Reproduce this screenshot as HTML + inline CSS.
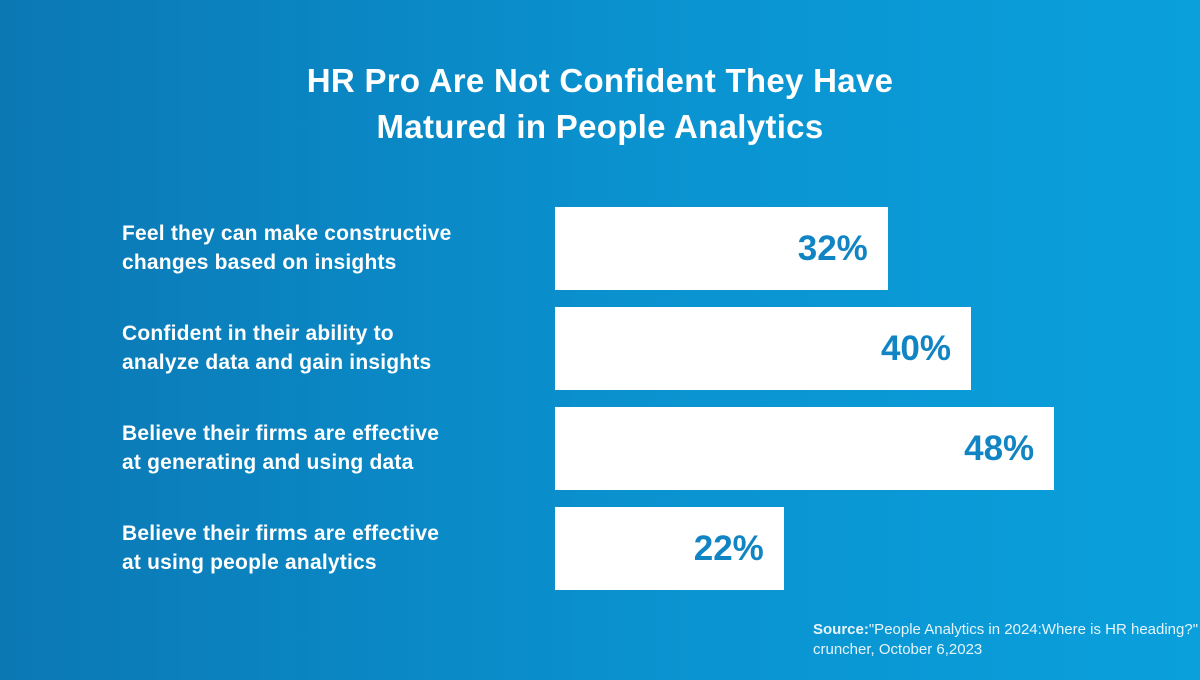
<!DOCTYPE html>
<html><head><meta charset="utf-8"><style>
html,body{margin:0;padding:0}
body{width:1200px;height:680px;overflow:hidden;background:linear-gradient(90deg,#0b78b4 0%,#0a93d0 55%,#0aa0dc 100%);font-family:"Liberation Sans",sans-serif;position:relative;color:#fff}
#title{position:absolute;left:0;width:1200px;top:58px;text-align:center;font-size:33px;font-weight:bold;line-height:46px;letter-spacing:0.3px}
.lbl{position:absolute;left:122px;font-size:21px;font-weight:bold;line-height:29px;letter-spacing:0.2px}
.bar{position:absolute;background:#fff;height:83px}
.val{position:absolute;right:20px;top:0;line-height:83px;font-size:35px;font-weight:bold;color:#1185c3}
#source{position:absolute;left:813px;top:620px;font-size:15px;line-height:20px;color:#e6f4fb}
</style></head><body>
<div id="title">HR Pro Are Not Confident They Have<br>Matured in People Analytics</div>
<div id="chart"></div>
<div id="source"><b>Source:</b>"People Analytics in 2024:Where is HR heading?" cruncher, October 6,2023</div>
<script>
const categories=["Feel they can make constructive|changes based on insights","Confident in their ability to|analyze data and gain insights","Believe their firms are effective|at generating and using data","Believe their firms are effective|at using people analytics"];
const values=[32,40,48,22];
const valueLabels=["32%","40%","48%","22%"];
const x0=555, pxPer=10.4, top0=207, step=100, bh=83;
const chart=document.getElementById('chart');
function xw(v){return v*pxPer;}
function yp(i){return top0+i*step;}
categories.forEach((c,i)=>{
  const l=document.createElement('div');
  l.className='lbl';
  
  
  l.style.top=(yp(i)+12)+'px';
  l.innerHTML=c.replace('|','<br>');
  chart.appendChild(l);
  const b=document.createElement('div');
  b.className='bar';
  
  
  b.style.left=x0+'px';
  b.style.top=yp(i)+'px';
  b.style.width=xw(values[i])+'px';
  const t=document.createElement('div');
  t.className='val';
  
  
  t.textContent=valueLabels[i];
  b.appendChild(t);
  chart.appendChild(b);
});
</script>
</body></html>
